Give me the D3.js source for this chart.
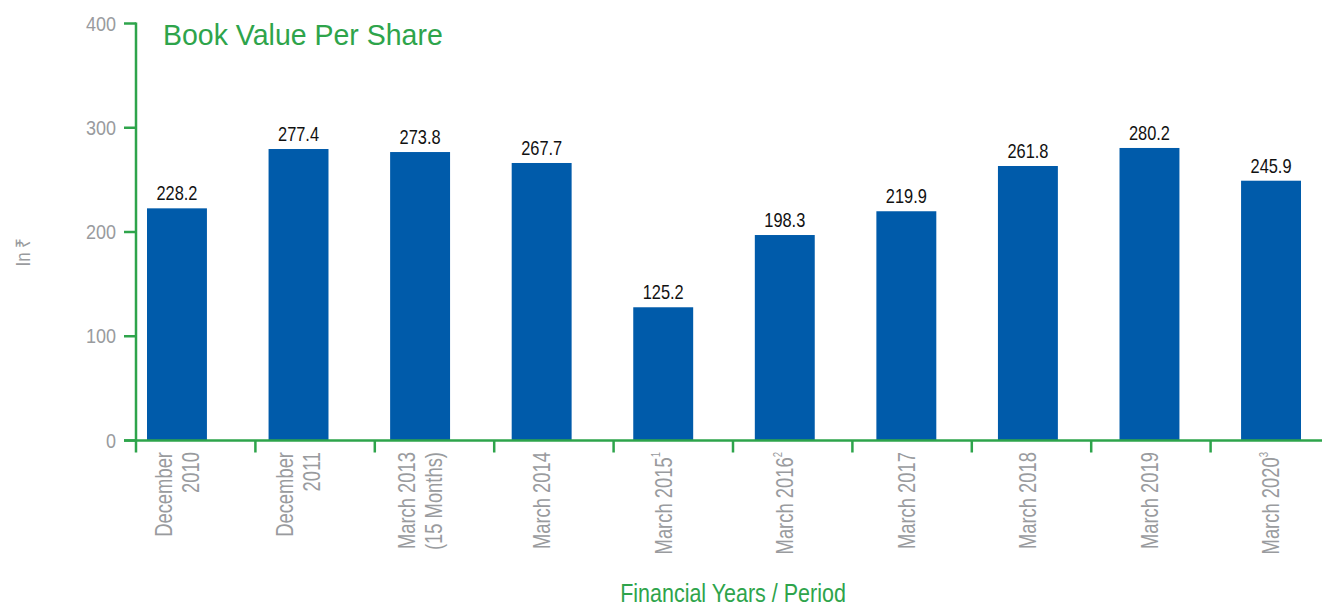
<!DOCTYPE html>
<html>
<head>
<meta charset="utf-8">
<script src="https://cdn.jsdelivr.net/npm/d3@7"></script>
<style>
  html, body { margin: 0; padding: 0; background: #fff; }
  svg { display: block; }
  text { font-family: "Liberation Sans Narrow", "Arial Narrow", "Liberation Sans", Arial, sans-serif; }
</style>
</head>
<body>
<svg id="chart" width="1322" height="606"></svg>
<script>
// ---- data ----
const categories = [
  ["December", "2010"],
  ["December", "2011"],
  ["March 2013", "(15 Months)"],
  ["March 2014"],
  ["March 2015", "1"],
  ["March 2016", "2"],
  ["March 2017"],
  ["March 2018"],
  ["March 2019"],
  ["March 2020", "3"]
];
const categoryKeys = ["Dec2010", "Dec2011", "Mar2013", "Mar2014", "Mar2015", "Mar2016", "Mar2017", "Mar2018", "Mar2019", "Mar2020"];
// bar heights as drawn in the picture
const barValues = [222.7, 279.6, 276.7, 266.2, 127.8, 197.1, 219.9, 263.3, 280.6, 249.2];
// printed value labels
const valueLabels = ["228.2", "277.4", "273.8", "267.7", "125.2", "198.3", "219.9", "261.8", "280.2", "245.9"];
const yTicks = [0, 100, 200, 300, 400];
const superscriptIdx = [4, 5, 9];

const title = "Book Value Per Share";
const xTitle = "Financial Years / Period";
const yTitle = "In ₹";

const green = "#2ea44b";
const gray = "#999b9e";
const blue = "#005baa";

const svg = d3.select("#chart");

const y = d3.scaleLinear().domain([0, 400]).range([440.5, 23.5]);
// scale for bars
const xBar = d3.scaleBand().domain(categoryKeys).range([147, 1301]).paddingInner(0.507).paddingOuter(0);
// scale for axis dividers
const xAxisBand = d3.scaleBand().domain(categoryKeys).range([136, 1330]).paddingInner(0).paddingOuter(0);

// bars
svg.append("g").selectAll("rect").data(barValues).join("rect")
  .attr("x", (d, i) => xBar(categoryKeys[i]))
  .attr("width", xBar.bandwidth())
  .attr("y", d => y(d))
  .attr("height", d => y(0) - y(d))
  .attr("fill", blue);

// value labels
svg.append("g").selectAll("text").data(barValues).join("text")
  .attr("transform", (d, i) => `translate(${xBar(categoryKeys[i]) + xBar.bandwidth() / 2},${y(d) - 8}) scale(0.82,1)`)
  .attr("text-anchor", "middle")
  .attr("font-size", 20)
  .attr("fill", "#111")
  .text((d, i) => valueLabels[i]);

// y axis
const yAxisG = svg.append("g");
yAxisG.append("line")
  .attr("x1", 136).attr("x2", 136)
  .attr("y1", y(400) - 1).attr("y2", y(0) + 12)
  .attr("stroke", green).attr("stroke-width", 2.5);
yAxisG.selectAll("line.tick").data(yTicks).join("line")
  .attr("class", "tick")
  .attr("x1", 124).attr("x2", 136)
  .attr("y1", d => y(d)).attr("y2", d => y(d))
  .attr("stroke", green).attr("stroke-width", 2.5);
yAxisG.selectAll("text").data(yTicks).join("text")
  .attr("transform", d => `translate(116,${y(d)}) scale(0.9,1)`)
  .attr("dy", "0.35em")
  .attr("text-anchor", "end")
  .attr("font-size", 20)
  .attr("fill", gray)
  .text(d => d);

// x axis
const xAxisG = svg.append("g");
xAxisG.append("line")
  .attr("x1", 124).attr("x2", 1322)
  .attr("y1", y(0)).attr("y2", y(0))
  .attr("stroke", green).attr("stroke-width", 2.5);
xAxisG.selectAll("line.tick").data(categoryKeys.slice(1)).join("line")
  .attr("class", "tick")
  .attr("x1", d => xAxisBand(d)).attr("x2", d => xAxisBand(d))
  .attr("y1", y(0)).attr("y2", y(0) + 12)
  .attr("stroke", green).attr("stroke-width", 2.5);

// x labels (rotated)
const lab = xAxisG.selectAll("g.xl").data(categories).join("g")
  .attr("class", "xl")
  .attr("transform", (d, i) => {
    const cx = xBar(categoryKeys[i]) + xBar.bandwidth() / 2;
    return `translate(${cx},452) rotate(-90) scale(0.8,1)`;
  });
lab.each(function(d, i) {
  const g = d3.select(this);
  const sup = superscriptIdx.includes(i);
  const lines = sup ? [d[0]] : d;
  const n = lines.length;
  const lh = 27;
  lines.forEach((t, j) => {
    const off = (j - (n - 1) / 2) * lh;
    const txt = g.append("text")
      .attr("x", 0)
      .attr("y", off)
      .attr("dy", "0.36em")
      .attr("text-anchor", "end")
      .attr("font-size", 23)
      .attr("fill", gray)
      .text(t);
    if (sup) {
      txt.append("tspan")
        .attr("font-size", 12)
        .attr("dy", "-0.95em")
        .text(d[1]);
    }
  });
});

// titles
svg.append("text")
  .attr("transform", "translate(163,45) scale(0.95,1)")
  .attr("font-size", 30)
  .attr("fill", green)
  .text(title);

svg.append("text")
  .attr("transform", "translate(733,602) scale(0.86,1)")
  .attr("text-anchor", "middle")
  .attr("font-size", 25)
  .attr("fill", green)
  .text(xTitle);

svg.append("text")
  .attr("transform", "translate(30,252) rotate(-90) scale(0.85,1)")
  .attr("text-anchor", "middle")
  .attr("font-size", 20)
  .attr("fill", gray)
  .text(yTitle);
</script>
</body>
</html>
